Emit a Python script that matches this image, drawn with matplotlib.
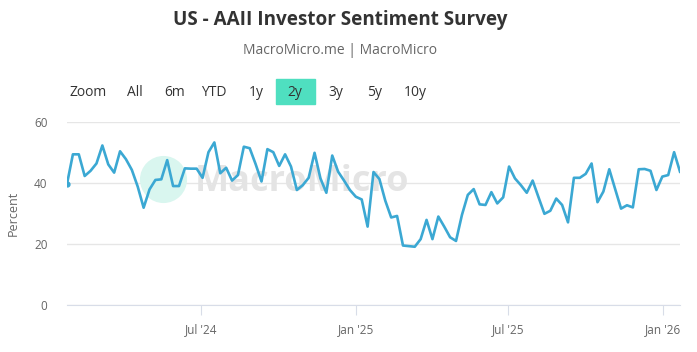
"""AAII investor sentiment (bullish %), two-year view."""
import matplotlib
matplotlib.use("Agg")
import matplotlib.pyplot as plt
from matplotlib.patches import Rectangle
import pandas as pd

plt.rcParams["font.family"] = ["Open Sans", "DejaVu Sans"]

# weekly readings, first survey week 2024-01-24
start_date = "2024-01-24"
bullish = [
    39.7, 49.4, 49.4, 42.3, 44.0, 46.4, 52.3, 46.1, 43.4, 50.4,
    47.8, 44.3, 38.8, 31.9, 37.9, 41.0, 41.2, 47.5, 39.0, 39.0,
    44.8, 44.7, 44.7, 41.7, 50.1, 53.3, 43.2, 45.0, 40.8, 42.6,
    51.9, 51.4, 46.2, 40.5, 51.1, 50.1, 45.6, 49.4, 45.4, 37.7,
    39.3, 41.7, 49.9, 41.5, 36.8, 49.0, 43.7, 40.8, 37.7, 35.5,
    34.6, 25.7, 43.6, 41.3, 34.2, 28.7, 29.2, 19.5, 19.3, 19.1,
    21.6, 27.9, 21.6, 29.0, 25.7, 22.2, 21.0, 29.5, 36.1, 38.0,
    33.0, 32.8, 37.0, 33.3, 35.3, 45.4, 41.5, 39.3, 36.8, 40.8,
    35.3, 29.9, 30.9, 34.9, 32.8, 27.1, 41.7, 41.7, 43.0, 46.4,
    33.7, 37.2, 44.5, 38.0, 31.6, 32.7, 32.0, 44.5, 44.6, 44.0,
    37.7, 42.1, 42.6, 50.1, 43.7,
]
dates = pd.date_range(start_date, periods=len(bullish), freq="7D")

x_ticks = ["2024-07-01", "2025-01-01", "2025-07-01", "2026-01-01"]
x_tick_labels = ["Jul '24", "Jan '25", "Jul '25", "Jan '26"]
y_ticks = [0, 20, 40, 60]
range_buttons = ["Zoom", "All", "6m", "YTD", "1y", "2y", "3y", "5y", "10y"]

W, H = 697, 352
fig = plt.figure(figsize=(W / 100, H / 100), dpi=100)
ax = fig.add_axes([67 / W, 1 - 305 / H, 613 / W, 183 / H])

# watermark
ax.scatter([0.156], [0.689], s=1150, color="#d9f6ef", transform=ax.transAxes,
           zorder=1, linewidths=0)
ax.text(0.208, 0.672, "MacroMicro", transform=ax.transAxes, fontsize=26,
        fontweight="bold", color="#e4e4e4", va="center", ha="left", zorder=1)

ax.plot(dates, bullish, color="#3ba8d3", lw=1.9, zorder=3)
ax.plot(dates[:1], bullish[:1], "o", ms=3.5, color="#3ba8d3", zorder=3)

ax.set_xlim(dates[0], dates[-1])
ax.set_ylim(0, 60)
ax.set_yticks(y_ticks)
ax.grid(axis="y", color="#e6e6e6", lw=1)
ax.set_axisbelow(True)
ax.set_xticks(pd.to_datetime(x_ticks))
ax.set_xticklabels(x_tick_labels)
for s in ["top", "right", "left"]:
    ax.spines[s].set_visible(False)
ax.spines["bottom"].set_color("#d8dde8")
ax.tick_params(axis="y", length=0, pad=14, labelsize=8.5, labelcolor="#666666")
ax.tick_params(axis="x", length=7, width=0.8, color="#d8dde8", pad=6,
               labelsize=8.5, labelcolor="#666666")
ax.set_ylabel("Percent", fontsize=9, color="#666666", labelpad=10)

fig.text(340 / W, 1 - 20 / H, "US - AAII Investor Sentiment Survey",
         ha="center", va="center", fontsize=13.6, fontweight="bold", color="#333333")
fig.text(340 / W, 1 - 51 / H, "MacroMicro.me | MacroMicro",
         ha="center", va="center", fontsize=10, color="#666666")

# range selector
fig.patches.append(Rectangle((276 / W, 1 - 104 / H), 39 / W, 25 / H,
                             transform=fig.transFigure, color="#4fdfc0",
                             zorder=0, figure=fig))
btn_x = [88, 135, 175, 214, 256, 295, 336, 375, 415]
for lbl, bx in zip(range_buttons, btn_x):
    fig.text(bx / W, 1 - 92 / H, lbl, ha="center", va="center",
             fontsize=10, color="#333333")

fig.savefig("out.png", dpi=100)
plt.close(fig)
